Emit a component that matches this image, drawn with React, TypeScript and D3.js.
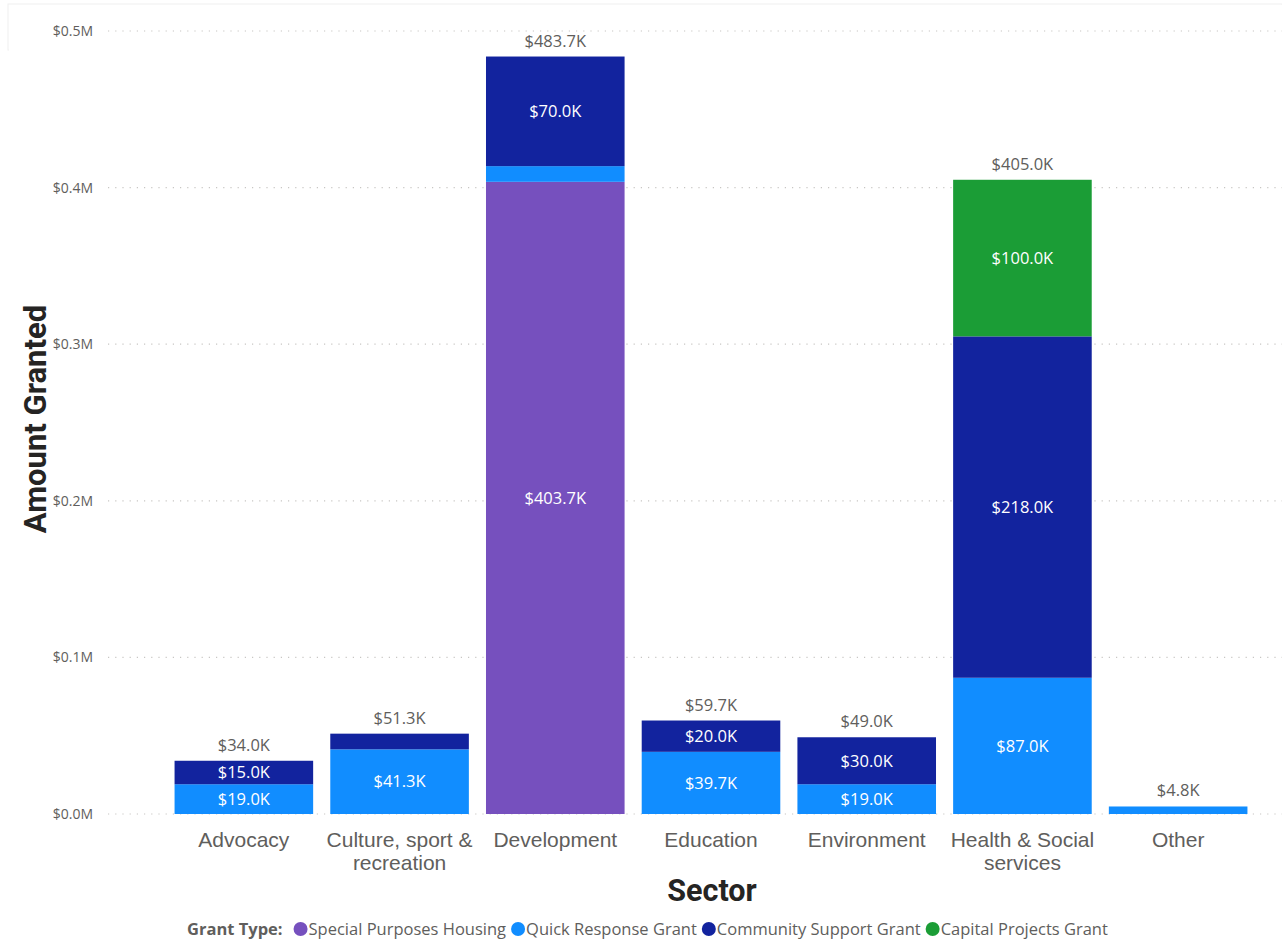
import React, { useEffect, useRef } from "react";
import * as d3 from "d3";

const categories = ["Advocacy", "Culture, sport & recreation", "Development", "Education", "Environment", "Health & Social services", "Other"];
const categoryLines = [["Advocacy"], ["Culture, sport &", "recreation"], ["Development"], ["Education"], ["Environment"], ["Health & Social", "services"], ["Other"]];
const seriesNames = ["Special Purposes Housing", "Quick Response Grant", "Community Support Grant", "Capital Projects Grant"];
const seriesColors = ["#7650BE", "#118DFF", "#12239E", "#1B9D36"];
const specialHousing = [0, 0, 403.7, 0, 0, 0, 0];
const quickResponse = [19.0, 41.3, 10.0, 39.7, 19.0, 87.0, 4.8];
const communitySupport = [15.0, 10.0, 70.0, 20.0, 30.0, 218.0, 0];
const capitalProjects = [0, 0, 0, 0, 0, 100.0, 0];
const yTicks = [0, 100, 200, 300, 400, 500];

const W = 1282, H = 942;

export default function App() {
  const ref = useRef<SVGSVGElement>(null);
  useEffect(() => {
    const svg = d3.select(ref.current);
    svg.selectAll("*").remove();
    const y = d3.scaleLinear().domain([0, 500]).range([814, 31]);
    const x = d3.scaleBand<string>().domain(categories).range([166, 1256]).paddingInner(0.11).paddingOuter(0.055);
    const series = [specialHousing, quickResponse, communitySupport, capitalProjects];
    const rows = categories.map((c, i) => {
      const r: any = { cat: c };
      seriesNames.forEach((s, j) => (r[s] = series[j][i]));
      return r;
    });
    const stack = d3.stack<any>().keys(seriesNames)(rows);

    // border
    svg.append("rect").attr("x", 8).attr("y", 4).attr("width", W - 8).attr("height", 46).attr("fill", "none").attr("stroke", "#f0f0f0").attr("stroke-width", 1);
    svg.append("rect").attr("x", 9).attr("y", 5).attr("width", W - 9).attr("height", H).attr("fill", "#fff");

    // grid
    const g = svg.append("g");
    yTicks.forEach((t) => {
      g.append("line").attr("x1", 108).attr("x2", 1282).attr("y1", y(t)).attr("y2", y(t))
        .attr("stroke", "#c8c6c4").attr("stroke-width", 1.2).attr("stroke-dasharray", "1.2,6");
      g.append("text").attr("x", 93).attr("y", y(t)).attr("dy", "0.35em").attr("text-anchor", "end")
        .attr("font-family", "Open Sans").attr("font-size", 14).attr("fill", "#605E5C")
        .text(`$${(t / 1000).toFixed(1)}M`);
    });

    // bars
    stack.forEach((layer, j) => {
      layer.forEach((d, i) => {
        const v = d[1] - d[0];
        if (v <= 0) return;
        const cat = categories[i];
        g.append("rect").attr("x", x(cat)!).attr("width", x.bandwidth())
          .attr("y", y(d[1])).attr("height", y(d[0]) - y(d[1])).attr("fill", seriesColors[j]);
        if (y(d[0]) - y(d[1]) > 22) {
          g.append("text").attr("x", x(cat)! + x.bandwidth() / 2).attr("y", (y(d[0]) + y(d[1])) / 2).attr("dy", "0.35em")
            .attr("text-anchor", "middle").attr("font-family", "Open Sans").attr("font-size", 16.5).attr("fill", "#fff")
            .text(`$${v.toFixed(1)}K`);
        }
      });
    });
    // totals
    categories.forEach((cat, i) => {
      const tot = series.reduce((a, s) => a + s[i], 0);
      g.append("text").attr("x", x(cat)! + x.bandwidth() / 2).attr("y", y(tot) - 10)
        .attr("text-anchor", "middle").attr("font-family", "Open Sans").attr("font-size", 16.5).attr("fill", "#605E5C")
        .text(`$${tot.toFixed(1)}K`);
    });
    // category labels
    categories.forEach((cat, i) => {
      const t = g.append("text").attr("text-anchor", "middle").attr("font-family", "Liberation Sans").attr("font-size", 21).attr("fill", "#605E5C");
      categoryLines[i].forEach((ln, k) => {
        t.append("tspan").attr("x", x(cat)! + x.bandwidth() / 2).attr("y", 847 + k * 23).text(ln);
      });
    });
    // axis titles
    svg.append("text").attr("transform", `translate(46,419) rotate(-90)`).attr("text-anchor", "middle")
      .attr("font-family", "Roboto").attr("font-weight", 700).attr("font-size", 31).attr("fill", "#252423").text("Amount Granted");
    svg.append("text").attr("x", 712).attr("y", 901).attr("text-anchor", "middle")
      .attr("font-family", "Roboto").attr("font-weight", 700).attr("font-size", 30.5).attr("fill", "#252423").text("Sector");

    // legend
    const lg = svg.append("g");
    const ly = 929;
    const title = lg.append("text").attr("x", 187).attr("y", ly).attr("dy", "0.35em").attr("font-family", "Open Sans")
      .attr("font-weight", 700).attr("font-size", 16.5).attr("fill", "#605E5C").text("Grant Type:");
    let cx = 187 + (title.node() as SVGTextElement).getComputedTextLength() + 18;
    seriesNames.forEach((s, j) => {
      lg.append("circle").attr("cx", cx).attr("cy", ly).attr("r", 7).attr("fill", seriesColors[j]);
      const t = lg.append("text").attr("x", cx + 8).attr("y", ly).attr("dy", "0.35em").attr("font-family", "Open Sans")
        .attr("font-size", 16.5).attr("fill", "#605E5C").text(s);
      cx += 8 + (t.node() as SVGTextElement).getComputedTextLength() + 12;
    });
  }, []);
  return <svg ref={ref} width={W} height={H} style={{ position: "absolute", left: 0, top: 0, background: "#fff" }} />;
}
